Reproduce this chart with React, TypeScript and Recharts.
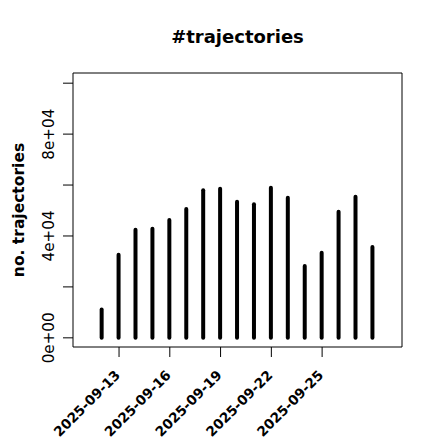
import { ComposedChart, Bar, XAxis, YAxis, ReferenceArea } from 'recharts';

const dates = [
  '2025-09-12', '2025-09-13', '2025-09-14', '2025-09-15', '2025-09-16', '2025-09-17',
  '2025-09-18', '2025-09-19', '2025-09-20', '2025-09-21', '2025-09-22', '2025-09-23',
  '2025-09-24', '2025-09-25', '2025-09-26', '2025-09-27', '2025-09-28',
];
const trajectories = [
  11100, 32600, 42400, 42800, 46300, 50600, 58000, 58500, 53400,
  52500, 58900, 55000, 28200, 33400, 49500, 55400, 35700,
];
const xTickDates = ['2025-09-13', '2025-09-16', '2025-09-19', '2025-09-22', '2025-09-25'];
const yTicks = [0, 20000, 40000, 60000, 80000, 100000];
const yTickLabels = ['0e+00', '', '4e+04', '', '8e+04', ''];

const FONT = '"DejaVu Sans", sans-serif';
const X_DOMAIN = [10.28, 29.72];
const Y_DOMAIN = [-3600, 104000];
const dayNum = (d: string) => Number(d.slice(8));

const data = dates.map((d, i) => ({ day: dayNum(d), date: d, value: trajectories[i] }));

// R type="h" style stem with round line ends
const Stem = (props: any) => {
  const { x, y, width, height } = props;
  const cx = x + width / 2;
  return (
    <line x1={cx} x2={cx} y1={y} y2={y + height} stroke="#000" strokeWidth={4} strokeLinecap="round" />
  );
};

const XTick = ({ x, y, payload }: any) => {
  const label = xTickDates.find((d) => dayNum(d) === payload.value) ?? '';
  return (
    <g transform={`translate(${x + 2}, ${y + 19}) rotate(-45)`}>
      <text x={0} y={0} textAnchor="end" fontFamily={FONT} fontWeight="bold" fontSize={13.6} fill="#000">
        {label}
      </text>
    </g>
  );
};

const YTick = ({ y, payload }: any) => {
  const label = yTickLabels[yTicks.indexOf(payload.value)];
  if (!label) return <g />;
  return (
    <g transform={`translate(53.5, ${y}) rotate(-90)`}>
      <text x={0} y={0} textAnchor="middle" fontFamily={FONT} fontSize={15.2} fill="#000">
        {label}
      </text>
    </g>
  );
};

export default function App() {
  return (
    <div style={{ position: 'absolute', left: 0, top: 0, width: 440, height: 440, background: '#fff' }}>
      <ComposedChart width={440} height={440} data={data} margin={{ top: 73, right: 38, bottom: 0, left: 0 }}>
        <text x={237.5} y={43} textAnchor="middle" fontFamily={FONT} fontWeight="bold" fontSize={18} fill="#000">
          #trajectories
        </text>
        <g transform="translate(24, 210) rotate(-90)">
          <text x={0} y={0} textAnchor="middle" fontFamily={FONT} fontWeight="bold" fontSize={15.5} fill="#000">
            no. trajectories
          </text>
        </g>
        <XAxis
          type="number"
          dataKey="day"
          domain={X_DOMAIN}
          ticks={xTickDates.map(dayNum)}
          interval={0}
          height={93}
          tickSize={10}
          tickMargin={0}
          axisLine={false}
          tickLine={{ stroke: '#000' }}
          tick={<XTick />}
          allowDataOverflow
        />
        <YAxis
          type="number"
          domain={Y_DOMAIN}
          ticks={yTicks}
          interval={0}
          width={73}
          tickSize={10}
          tickMargin={0}
          axisLine={false}
          tickLine={{ stroke: '#000' }}
          tick={<YTick />}
          allowDataOverflow
        />
        <ReferenceArea
          x1={X_DOMAIN[0]} x2={X_DOMAIN[1]} y1={Y_DOMAIN[0]} y2={Y_DOMAIN[1]}
          fill="none" fillOpacity={0} stroke="#000" strokeWidth={1} ifOverflow="visible"
        />
        <Bar dataKey="value" barSize={4} shape={<Stem />} isAnimationActive={false} />
      </ComposedChart>
    </div>
  );
}
